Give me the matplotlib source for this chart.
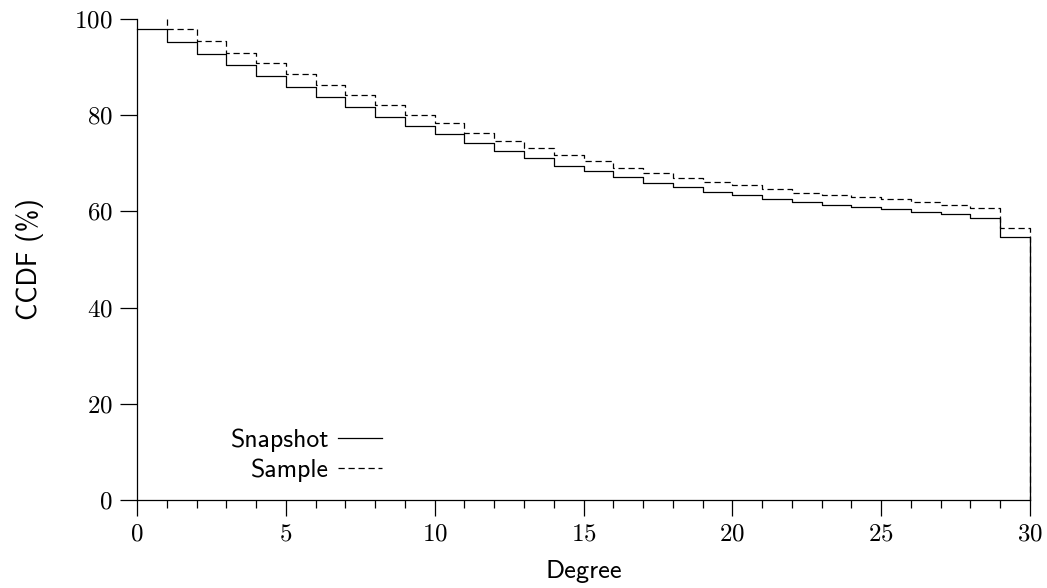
import numpy as np
import matplotlib
matplotlib.use("Agg")
import matplotlib.pyplot as plt
from matplotlib.ticker import MultipleLocator

# step values per unit degree interval
snapshot_x = np.arange(0, 30)
snapshot = [97.9, 95.2, 92.7, 90.4, 88.2, 85.9, 83.8, 81.7, 79.7, 77.8,
            76.0, 74.2, 72.5, 71.0, 69.5, 68.3, 67.1, 66.0, 65.0, 64.1,
            63.4, 62.6, 61.9, 61.4, 60.9, 60.4, 59.9, 59.4, 58.7, 54.7]

sample_x = np.arange(1, 30)
sample = [98.0, 95.4, 93.0, 90.8, 88.6, 86.2, 84.1, 82.1, 80.1,
          78.3, 76.4, 74.7, 73.2, 71.8, 70.4, 69.1, 68.0, 67.0, 66.2,
          65.4, 64.6, 63.9, 63.4, 62.9, 62.5, 62.0, 61.4, 60.7, 56.6]

plt.rcParams['font.family'] = 'serif'
plt.rcParams['font.serif'] = ['cmr10']
plt.rcParams['axes.formatter.use_mathtext'] = True
plt.rcParams['mathtext.fontset'] = 'cm'

fig = plt.figure(figsize=(10.47, 5.88), dpi=100)
ax = fig.add_axes([137/1047, 1-500/588, (1030-137)/1047, (500-19)/588])

def steps(xs, ys, start=None):
    # post-style step curve ending with a drop to 0 at x=30
    px = list(xs) + [30, 30]
    py = list(ys) + [ys[-1], 0]
    if start is not None:
        px = [xs[0]] + px
        py = [start] + py
    return px, py

sx, sy = steps(snapshot_x, snapshot)
ax.step(sx, sy, where='post', color='black', lw=0.9, label='Snapshot', clip_on=False)
dx, dy = steps(sample_x, sample, start=100)
ax.step(dx, dy, where='post', color='black', lw=0.9, dashes=(5, 3), label='Sample', clip_on=False)

ax.set_xlim(0, 30)
ax.set_ylim(0, 100)
ax.spines['top'].set_visible(False)
ax.spines['right'].set_visible(False)
for s in ('left', 'bottom'):
    ax.spines[s].set_linewidth(0.9)

ax.xaxis.set_major_locator(MultipleLocator(5))
ax.xaxis.set_minor_locator(MultipleLocator(1))
ax.yaxis.set_major_locator(MultipleLocator(20))
ax.tick_params(axis='x', which='major', direction='out', length=11.5, width=0.9, labelsize=18, pad=5)
ax.tick_params(axis='x', which='minor', direction='out', length=5.5, width=0.9)
ax.tick_params(axis='y', which='major', direction='out', length=12.5, width=0.9, labelsize=18, pad=5)

ax.set_xlabel('Degree', family='cmss10', fontsize=19, labelpad=11)
ax.set_ylabel('CCDF (%)', family='cmss10', fontsize=19.5, labelpad=22)

leg = ax.legend(loc='lower left', bbox_to_anchor=(0.079, -0.01), frameon=False,
                markerfirst=False, handlelength=1.7, handletextpad=0.35,
                labelspacing=0.25, prop={'family': 'cmss10', 'size': 18.5})
for t in leg.get_texts():
    t.set_ha('right')

fig.savefig('out.png', dpi=100)
